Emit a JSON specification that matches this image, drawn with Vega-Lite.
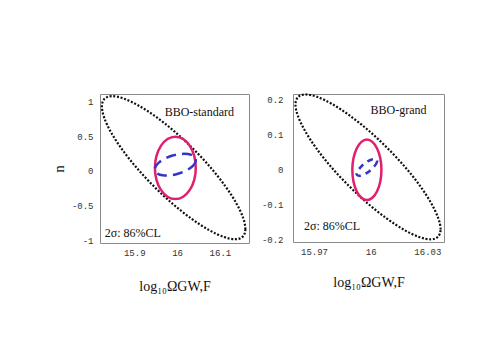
{
  "$schema": "https://vega.github.io/schema/vega-lite/v6.json",
  "background": "white",
  "padding": {"left": 50, "top": 89, "right": 0, "bottom": 0},
  "spacing": 9,
  "config": {
    "view": {"stroke": "#8a8a8a", "strokeWidth": 1},
    "axis": {"labelFont": "Liberation Mono", "labelFontSize": 9, "labelColor": "#333", "domain": false, "ticks": false, "grid": false, "titleFont": "Liberation Serif", "titleFontWeight": "normal", "titleColor": "#111"}
  },
  "datasets": {
    "p1": [
      {"c": "black", "i": 0, "x": 16.1534, "y": -0.9507},
      {"c": "black", "i": 1, "x": 16.1595, "y": -0.8452},
      {"c": "black", "i": 2, "x": 16.1542, "y": -0.6791},
      {"c": "black", "i": 3, "x": 16.1379, "y": -0.4638},
      {"c": "black", "i": 4, "x": 16.1116, "y": -0.2139},
      {"c": "black", "i": 5, "x": 16.0772, "y": 0.0536},
      {"c": "black", "i": 6, "x": 16.0369, "y": 0.3203},
      {"c": "black", "i": 7, "x": 15.9936, "y": 0.5682},
      {"c": "black", "i": 8, "x": 15.9502, "y": 0.7803},
      {"c": "black", "i": 9, "x": 15.9096, "y": 0.9422},
      {"c": "black", "i": 10, "x": 15.8747, "y": 1.0429},
      {"c": "black", "i": 11, "x": 15.8477, "y": 1.0754},
      {"c": "black", "i": 12, "x": 15.8306, "y": 1.0377},
      {"c": "black", "i": 13, "x": 15.8245, "y": 0.9322},
      {"c": "black", "i": 14, "x": 15.8298, "y": 0.7661},
      {"c": "black", "i": 15, "x": 15.8461, "y": 0.5508},
      {"c": "black", "i": 16, "x": 15.8724, "y": 0.3009},
      {"c": "black", "i": 17, "x": 15.9068, "y": 0.0334},
      {"c": "black", "i": 18, "x": 15.9471, "y": -0.2333},
      {"c": "black", "i": 19, "x": 15.9904, "y": -0.4812},
      {"c": "black", "i": 20, "x": 16.0338, "y": -0.6933},
      {"c": "black", "i": 21, "x": 16.0744, "y": -0.8552},
      {"c": "black", "i": 22, "x": 16.1093, "y": -0.9559},
      {"c": "black", "i": 23, "x": 16.1363, "y": -0.9884},
      {"c": "red", "i": 0, "x": 16.0437, "y": 0.041},
      {"c": "red", "i": 1, "x": 16.0401, "y": 0.2132},
      {"c": "red", "i": 2, "x": 16.0297, "y": 0.3592},
      {"c": "red", "i": 3, "x": 16.0143, "y": 0.4568},
      {"c": "red", "i": 4, "x": 15.996, "y": 0.491},
      {"c": "red", "i": 5, "x": 15.9777, "y": 0.4568},
      {"c": "red", "i": 6, "x": 15.9623, "y": 0.3592},
      {"c": "red", "i": 7, "x": 15.9519, "y": 0.2132},
      {"c": "red", "i": 8, "x": 15.9483, "y": 0.041},
      {"c": "red", "i": 9, "x": 15.9519, "y": -0.1312},
      {"c": "red", "i": 10, "x": 15.9623, "y": -0.2772},
      {"c": "red", "i": 11, "x": 15.9777, "y": -0.3748},
      {"c": "red", "i": 12, "x": 15.996, "y": -0.409},
      {"c": "red", "i": 13, "x": 16.0143, "y": -0.3748},
      {"c": "red", "i": 14, "x": 16.0297, "y": -0.2772},
      {"c": "red", "i": 15, "x": 16.0401, "y": -0.1312},
      {"c": "blue", "i": 0, "x": 16.0436, "y": 0.1714},
      {"c": "blue", "i": 1, "x": 16.0423, "y": 0.1146},
      {"c": "blue", "i": 2, "x": 16.034, "y": 0.0536},
      {"c": "blue", "i": 3, "x": 16.0199, "y": -0.0024},
      {"c": "blue", "i": 4, "x": 16.0021, "y": -0.0447},
      {"c": "blue", "i": 5, "x": 15.9834, "y": -0.067},
      {"c": "blue", "i": 6, "x": 15.9666, "y": -0.0658},
      {"c": "blue", "i": 7, "x": 15.9543, "y": -0.0414},
      {"c": "blue", "i": 8, "x": 15.9484, "y": 0.0026},
      {"c": "blue", "i": 9, "x": 15.9497, "y": 0.0594},
      {"c": "blue", "i": 10, "x": 15.958, "y": 0.1204},
      {"c": "blue", "i": 11, "x": 15.9721, "y": 0.1764},
      {"c": "blue", "i": 12, "x": 15.9899, "y": 0.2187},
      {"c": "blue", "i": 13, "x": 16.0086, "y": 0.241},
      {"c": "blue", "i": 14, "x": 16.0254, "y": 0.2398},
      {"c": "blue", "i": 15, "x": 16.0377, "y": 0.2154}
    ],
    "p2": [
      {"c": "black", "i": 0, "x": 16.0356, "y": -0.1916},
      {"c": "black", "i": 1, "x": 16.037, "y": -0.1707},
      {"c": "black", "i": 2, "x": 16.0357, "y": -0.1375},
      {"c": "black", "i": 3, "x": 16.0319, "y": -0.0944},
      {"c": "black", "i": 4, "x": 16.0259, "y": -0.0443},
      {"c": "black", "i": 5, "x": 16.018, "y": 0.0093},
      {"c": "black", "i": 6, "x": 16.0087, "y": 0.063},
      {"c": "black", "i": 7, "x": 15.9988, "y": 0.1129},
      {"c": "black", "i": 8, "x": 15.9888, "y": 0.1557},
      {"c": "black", "i": 9, "x": 15.9796, "y": 0.1884},
      {"c": "black", "i": 10, "x": 15.9716, "y": 0.2089},
      {"c": "black", "i": 11, "x": 15.9654, "y": 0.2157},
      {"c": "black", "i": 12, "x": 15.9616, "y": 0.2084},
      {"c": "black", "i": 13, "x": 15.9602, "y": 0.1875},
      {"c": "black", "i": 14, "x": 15.9615, "y": 0.1543},
      {"c": "black", "i": 15, "x": 15.9653, "y": 0.1112},
      {"c": "black", "i": 16, "x": 15.9713, "y": 0.0611},
      {"c": "black", "i": 17, "x": 15.9792, "y": 0.0075},
      {"c": "black", "i": 18, "x": 15.9885, "y": -0.0462},
      {"c": "black", "i": 19, "x": 15.9984, "y": -0.0961},
      {"c": "black", "i": 20, "x": 16.0084, "y": -0.1389},
      {"c": "black", "i": 21, "x": 16.0176, "y": -0.1716},
      {"c": "black", "i": 22, "x": 16.0256, "y": -0.1921},
      {"c": "black", "i": 23, "x": 16.0318, "y": -0.1989},
      {"c": "red", "i": 0, "x": 16.0057, "y": 0},
      {"c": "red", "i": 1, "x": 16.0051, "y": 0.0331},
      {"c": "red", "i": 2, "x": 16.0034, "y": 0.0612},
      {"c": "red", "i": 3, "x": 16.0009, "y": 0.08},
      {"c": "red", "i": 4, "x": 15.998, "y": 0.0866},
      {"c": "red", "i": 5, "x": 15.9951, "y": 0.08},
      {"c": "red", "i": 6, "x": 15.9926, "y": 0.0612},
      {"c": "red", "i": 7, "x": 15.9909, "y": 0.0331},
      {"c": "red", "i": 8, "x": 15.9903, "y": 0},
      {"c": "red", "i": 9, "x": 15.9909, "y": -0.0331},
      {"c": "red", "i": 10, "x": 15.9926, "y": -0.0612},
      {"c": "red", "i": 11, "x": 15.9951, "y": -0.08},
      {"c": "red", "i": 12, "x": 15.998, "y": -0.0866},
      {"c": "red", "i": 13, "x": 16.0009, "y": -0.08},
      {"c": "red", "i": 14, "x": 16.0034, "y": -0.0612},
      {"c": "red", "i": 15, "x": 16.0051, "y": -0.0331},
      {"c": "blue", "i": 0, "x": 16.0032, "y": 0.029},
      {"c": "blue", "i": 1, "x": 16.0034, "y": 0.0235},
      {"c": "blue", "i": 2, "x": 16.0027, "y": 0.0154},
      {"c": "blue", "i": 3, "x": 16.0013, "y": 0.0061},
      {"c": "blue", "i": 4, "x": 15.9995, "y": -0.0031},
      {"c": "blue", "i": 5, "x": 15.9974, "y": -0.0108},
      {"c": "blue", "i": 6, "x": 15.9954, "y": -0.0157},
      {"c": "blue", "i": 7, "x": 15.9938, "y": -0.0172},
      {"c": "blue", "i": 8, "x": 15.9928, "y": -0.015},
      {"c": "blue", "i": 9, "x": 15.9926, "y": -0.0095},
      {"c": "blue", "i": 10, "x": 15.9933, "y": -0.0014},
      {"c": "blue", "i": 11, "x": 15.9947, "y": 0.008},
      {"c": "blue", "i": 12, "x": 15.9965, "y": 0.0171},
      {"c": "blue", "i": 13, "x": 15.9986, "y": 0.0248},
      {"c": "blue", "i": 14, "x": 16.0006, "y": 0.0297},
      {"c": "blue", "i": 15, "x": 16.0023, "y": 0.0312}
    ],
    "t1": [
      {"x": 15.971, "y": 0.841, "label": "BBO-standard"},
      {"x": 15.831, "y": -0.899, "label": "2σ: 86%CL"}
    ],
    "t2": [
      {"x": 15.9999, "y": 0.171, "label": "BBO-grand"},
      {"x": 15.9647, "y": -0.162, "label": "2σ: 86%CL"}
    ]
  },
  "hconcat": [
    {
      "width": 149,
      "height": 149,
      "encoding": {
        "x": {"field": "x", "type": "quantitative", "scale": {"domain": [15.82, 16.168], "nice": false, "zero": false},
          "axis": {"values": [15.9, 16, 16.1], "format": "~g", "labelPadding": 5, "title": "log₁₀ΩGW,F", "titleFontSize": 14, "titlePadding": 22}},
        "y": {"field": "y", "type": "quantitative", "scale": {"domain": [-1.043, 1.107], "nice": false, "zero": false},
          "axis": {"values": [-1, -0.5, 0, 0.5, 1], "format": "~g", "labelExpr": "replace(datum.label, '−', '-')", "labelPadding": 7, "title": "n", "titleFontSize": 15, "titlePadding": 5}}
      },
      "layer": [
        {"data": {"name": "p1"}, "transform": [{"filter": "datum.c === 'black'"}],
          "mark": {"type": "line", "interpolate": "cardinal-closed", "color": "#111", "strokeWidth": 2.2, "strokeDash": [2, 1.7]},
          "encoding": {"order": {"field": "i", "type": "quantitative"}}},
        {"data": {"name": "p1"}, "transform": [{"filter": "datum.c === 'red'"}],
          "mark": {"type": "line", "interpolate": "cardinal-closed", "color": "#e0206e", "strokeWidth": 2.5},
          "encoding": {"order": {"field": "i", "type": "quantitative"}}},
        {"data": {"name": "p1"}, "transform": [{"filter": "datum.c === 'blue'"}],
          "mark": {"type": "line", "interpolate": "cardinal-closed", "color": "#3535c8", "strokeWidth": 2.5, "strokeDash": [10, 6]},
          "encoding": {"order": {"field": "i", "type": "quantitative"}}},
        {"data": {"name": "t1"},
          "mark": {"type": "text", "align": "left", "baseline": "middle", "font": "Liberation Serif", "fontSize": 12, "color": "#111"},
          "encoding": {"text": {"field": "label"}}}
      ]
    },
    {
      "width": 151,
      "height": 148,
      "encoding": {
        "x": {"field": "x", "type": "quantitative", "scale": {"domain": [15.9589, 16.0388], "nice": false, "zero": false},
          "axis": {"values": [15.97, 16, 16.03], "format": "~g", "labelPadding": 5, "title": "log₁₀ΩGW,F", "titleFontSize": 14, "titlePadding": 19}},
        "y": {"field": "y", "type": "quantitative", "scale": {"domain": [-0.2066, 0.217], "nice": false, "zero": false},
          "axis": {"values": [-0.2, -0.1, 0, 0.1, 0.2], "format": "~g", "labelExpr": "replace(datum.label, '−', '-')", "labelPadding": 10, "title": null}}
      },
      "layer": [
        {"data": {"name": "p2"}, "transform": [{"filter": "datum.c === 'black'"}],
          "mark": {"type": "line", "interpolate": "cardinal-closed", "color": "#111", "strokeWidth": 2.2, "strokeDash": [2, 1.7]},
          "encoding": {"order": {"field": "i", "type": "quantitative"}}},
        {"data": {"name": "p2"}, "transform": [{"filter": "datum.c === 'red'"}],
          "mark": {"type": "line", "interpolate": "cardinal-closed", "color": "#e0206e", "strokeWidth": 2.5},
          "encoding": {"order": {"field": "i", "type": "quantitative"}}},
        {"data": {"name": "p2"}, "transform": [{"filter": "datum.c === 'blue'"}],
          "mark": {"type": "line", "interpolate": "cardinal-closed", "color": "#3535c8", "strokeWidth": 2.5, "strokeDash": [6, 5]},
          "encoding": {"order": {"field": "i", "type": "quantitative"}}},
        {"data": {"name": "t2"},
          "mark": {"type": "text", "align": "left", "baseline": "middle", "font": "Liberation Serif", "fontSize": 12, "color": "#111"},
          "encoding": {"text": {"field": "label"}}}
      ]
    }
  ]
}
